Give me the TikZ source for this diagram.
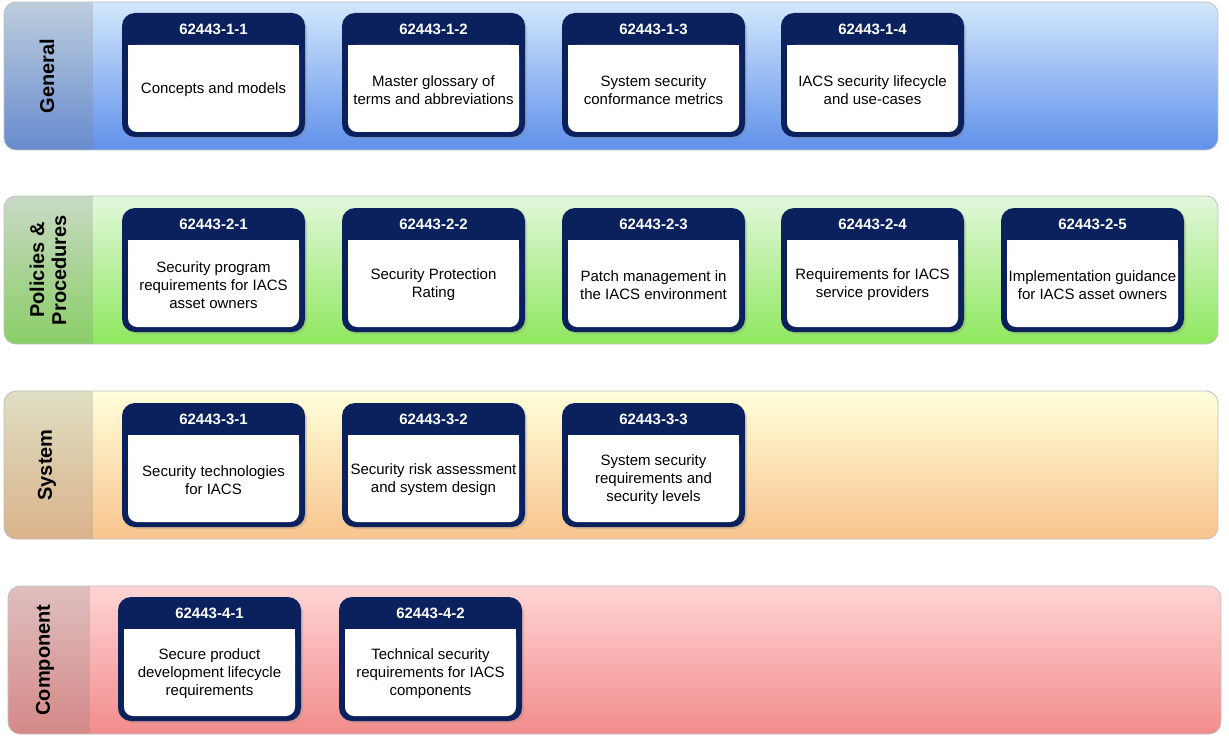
\documentclass[tikz,border=0pt]{standalone}
\usepackage{fontspec}
\setmainfont{Liberation Sans}
\usetikzlibrary{shadows}
\definecolor{navy}{HTML}{0B215E}
\definecolor{gtop}{HTML}{D2E8FC}\definecolor{gbot}{HTML}{6090EA}
\definecolor{ptop}{HTML}{E2F8DC}\definecolor{pbot}{HTML}{8EE85E}
\definecolor{stop}{HTML}{FFFFDA}\definecolor{sbot}{HTML}{F8C48E}
\definecolor{ctop}{HTML}{FFD4D4}\definecolor{cbot}{HTML}{F28C8C}
\tikzset{
  band/.style={draw=black!25, line width=0.8pt, rounded corners=12pt},
  strip/.style={fill=gray, fill opacity=0.25},
  bandlabel/.style={rotate=90, font=\fontsize{20}{22}\selectfont\bfseries, align=center, text=black},
  cardbox/.style={fill=navy, rounded corners=13pt, drop shadow={shadow xshift=2pt, shadow yshift=-2pt, opacity=0.25}},
  cardhead/.style={text=white, font=\fontsize{15}{17}\selectfont\bfseries},
  cardtext/.style={text=black, align=center, font=\fontsize{15}{18}\selectfont}
}
\newcommand\mkcard[5]{% name, x, y, id, text
  \path[cardbox] (#2,#3) rectangle ++(183,124);
  \fill[white, rounded corners=9pt] (#2+6,#3+32) rectangle (#2+177,#3+119);
  \fill[white] (#2+6,#3+32) rectangle (#2+177,#3+50);
  \node[cardhead] (#1h) at (#2+91.5,#3+16.5) {#4};
  \node[cardtext] (#1) at (#2+91.5,#3+77) {#5};
}
\begin{document}
\begin{tikzpicture}[x=1pt,y=-1pt]
\useasboundingbox (0,0) rectangle (1229,741);
% bands
\begin{scope}
\clip[rounded corners=12pt] (4,2) rectangle (1218,150);
\shade[top color=gtop, bottom color=gbot] (4,2) rectangle (1218,150);
\fill[strip] (4,2) rectangle (93,150);
\end{scope}
\draw[band] (4,2) rectangle (1218,150);
\begin{scope}
\clip[rounded corners=12pt] (4,196) rectangle (1218,344);
\shade[top color=ptop, bottom color=pbot] (4,196) rectangle (1218,344);
\fill[strip] (4,196) rectangle (93,344);
\end{scope}
\draw[band] (4,196) rectangle (1218,344);
\begin{scope}
\clip[rounded corners=12pt] (4,391) rectangle (1218,539);
\shade[top color=stop, bottom color=sbot] (4,391) rectangle (1218,539);
\fill[strip] (4,391) rectangle (93,539);
\end{scope}
\draw[band] (4,391) rectangle (1218,539);
\begin{scope}
\clip[rounded corners=12pt] (8,586) rectangle (1221,734);
\shade[top color=ctop, bottom color=cbot] (8,586) rectangle (1221,734);
\fill[strip] (8,586) rectangle (90,734);
\end{scope}
\draw[band] (8,586) rectangle (1221,734);
\node[bandlabel] (lg) at (47,76) {General};
\node[bandlabel] (lp) at (48,270) {Policies \&\\Procedures};
\node[bandlabel] (ls) at (47,465) {System};
\node[bandlabel] (lc) at (45,660) {Component};
% cards
\mkcard{a1}{122}{13}{62443-1-1}{Concepts and models}
\mkcard{a2}{342}{13}{62443-1-2}{Master glossary of\\terms and abbreviations}
\mkcard{a3}{562}{13}{62443-1-3}{System security\\conformance metrics}
\mkcard{a4}{781}{13}{62443-1-4}{IACS security lifecycle\\and use-cases}
\mkcard{b1}{122}{208}{62443-2-1}{Security program\\requirements for IACS\\asset owners}
\mkcard{b2}{342}{208}{62443-2-2}{Security Protection\\Rating}
\mkcard{b3}{562}{208}{62443-2-3}{Patch management in\\the IACS environment}
\mkcard{b4}{781}{208}{62443-2-4}{Requirements for IACS\\service providers}
\mkcard{b5}{1001}{208}{62443-2-5}{Implementation guidance\\for IACS asset owners}
\mkcard{c1}{122}{403}{62443-3-1}{Security technologies\\for IACS}
\mkcard{c2}{342}{403}{62443-3-2}{Security risk assessment\\and system design}
\mkcard{c3}{562}{403}{62443-3-3}{System security\\requirements and\\security levels}
\mkcard{d1}{118}{597}{62443-4-1}{Secure product\\development lifecycle\\requirements}
\mkcard{d2}{339}{597}{62443-4-2}{Technical security\\requirements for IACS\\components}
\end{tikzpicture}
\end{document}
